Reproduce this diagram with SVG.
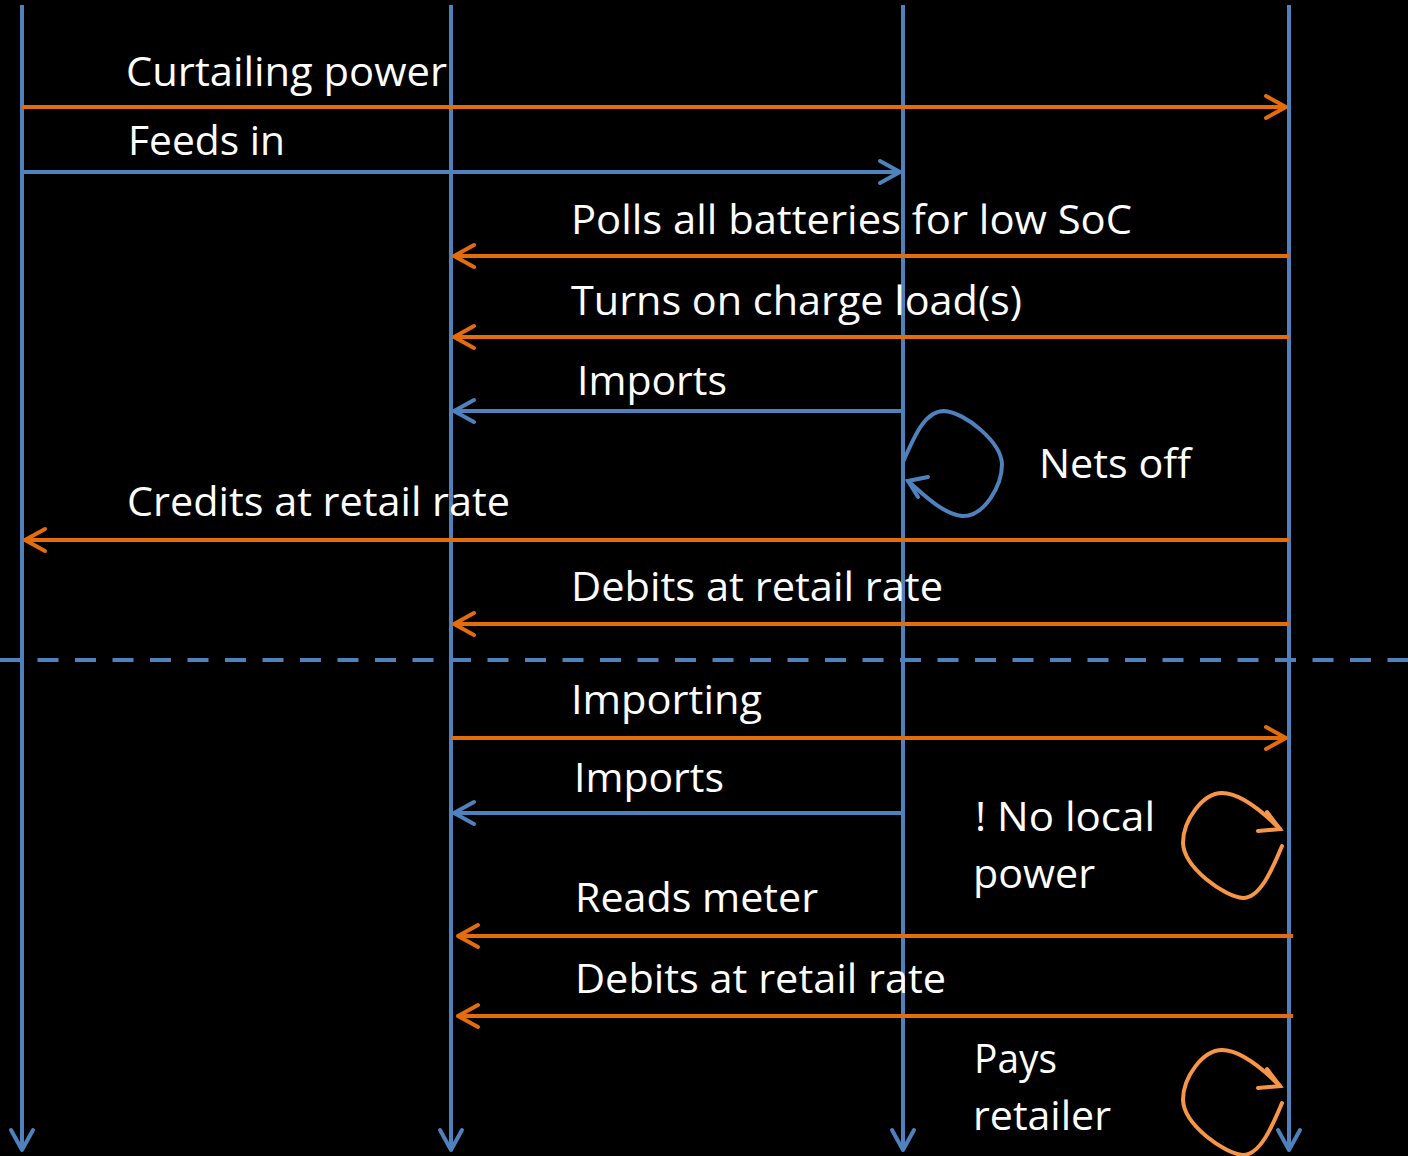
<svg xmlns="http://www.w3.org/2000/svg" width="1408" height="1156" viewBox="0 0 1408 1156">
  <style>
    .bg { fill: #000000; }
    .life { stroke: #4F81BD; stroke-width: 4; fill: none; }
    .msg-o { stroke: #E46C0A; stroke-width: 4; fill: none; }
    .msg-b { stroke: #4F81BD; stroke-width: 4; fill: none; }
    .self-b { stroke: #4F81BD; stroke-width: 4; fill: none; stroke-linecap: round; }
    .self-o { stroke: #F79646; stroke-width: 4; fill: none; stroke-linecap: round; }
    .sep { stroke: #4F81BD; stroke-width: 4; fill: none; stroke-dasharray: 21 16.5; }
    .lbl { fill: #FFFFFF; font-family: "Open Sans", "Noto Sans", "Liberation Sans", sans-serif; font-size: 40px; }
  </style>
  <defs>
    <marker id="ah-blue" markerUnits="userSpaceOnUse" viewBox="-24 -14 28 28" markerWidth="28" markerHeight="28" refX="0" refY="0" orient="auto">
      <path d="M -20 -11 L 0 0 L -20 11" fill="none" stroke="#4F81BD" stroke-width="4" stroke-linecap="round" stroke-linejoin="round"/>
    </marker>
    <marker id="ah-orange" markerUnits="userSpaceOnUse" viewBox="-24 -14 28 28" markerWidth="28" markerHeight="28" refX="0" refY="0" orient="auto">
      <path d="M -20 -11 L 0 0 L -20 11" fill="none" stroke="#E46C0A" stroke-width="4" stroke-linecap="round" stroke-linejoin="round"/>
    </marker>
  </defs>

  <rect class="bg" x="0" y="0" width="1408" height="1156"/>

  <!-- lifelines -->
  <g id="lifeline-1"><path class="life" d="M 22 5 L 22 1150" marker-end="url(#ah-blue)"/></g>
  <g id="lifeline-2"><path class="life" d="M 451 5 L 451 1150" marker-end="url(#ah-blue)"/></g>
  <g id="lifeline-3"><path class="life" d="M 903 5 L 903 1150" marker-end="url(#ah-blue)"/></g>
  <g id="lifeline-4"><path class="life" d="M 1289 5 L 1289 1150" marker-end="url(#ah-blue)"/></g>

  <!-- phase separator -->
  <g id="separator"><path class="sep" d="M 0 660 L 1408 660"/></g>

  <!-- messages -->
  <g id="connectors">
    <path class="msg-o" d="M 22 107 L 1286 107" marker-end="url(#ah-orange)"/>
    <path class="msg-b" d="M 22 172 L 900 172" marker-end="url(#ah-blue)"/>
    <path class="msg-o" d="M 1289 256 L 454 256" marker-end="url(#ah-orange)"/>
    <path class="msg-o" d="M 1289 337 L 454 337" marker-end="url(#ah-orange)"/>
    <path class="msg-b" d="M 903 411 L 454 411" marker-end="url(#ah-blue)"/>
    <path class="msg-o" d="M 1289 540 L 25 540" marker-end="url(#ah-orange)"/>
    <path class="msg-o" d="M 1289 624 L 454 624" marker-end="url(#ah-orange)"/>
    <path class="msg-o" d="M 451 738 L 1286 738" marker-end="url(#ah-orange)"/>
    <path class="msg-b" d="M 903 813 L 454 813" marker-end="url(#ah-blue)"/>
    <path class="msg-o" d="M 1293 936 L 458 936" marker-end="url(#ah-orange)"/>
    <path class="msg-o" d="M 1293 1016 L 458 1016" marker-end="url(#ah-orange)"/>

    <!-- self loop: nets off -->
    <path class="self-b" d="M 903 462 C 915 435, 925 411, 944 411 C 965 412, 1001 442, 1002 464 C 1002 486, 984 517, 962 516 C 943 514, 924 495, 908 481"/>
    <path class="self-b" d="M 928 477 L 908 481 L 918 497"/>

    <!-- self loop: no local power -->
    <g id="loop-nolocal">
      <path class="self-o" d="M 1282 846 C 1272 870, 1260 898, 1243 898 C 1225 897, 1184 868, 1183 843 C 1183 820, 1203 793, 1222 793 C 1242 793, 1265 814, 1280 829"/>
      <path class="self-o" d="M 1258 831 L 1280 829 L 1267 812"/>
    </g>
    <!-- self loop: pays retailer -->
    <g id="loop-pays" transform="translate(0 257)">
      <path class="self-o" d="M 1282 846 C 1272 870, 1260 898, 1243 898 C 1225 897, 1184 868, 1183 843 C 1183 820, 1203 793, 1222 793 C 1242 793, 1265 814, 1280 829"/>
      <path class="self-o" d="M 1258 831 L 1280 829 L 1267 812"/>
    </g>
  </g>

  <!-- labels -->
  <g id="labels">
    <text class="lbl" x="126" y="86" textLength="321" lengthAdjust="spacingAndGlyphs">Curtailing power</text>
    <text class="lbl" x="128" y="155" textLength="157" lengthAdjust="spacingAndGlyphs">Feeds in</text>
    <text class="lbl" x="571" y="234" textLength="561" lengthAdjust="spacingAndGlyphs">Polls all batteries for low SoC</text>
    <text class="lbl" x="571" y="315" textLength="451" lengthAdjust="spacingAndGlyphs">Turns on charge load(s)</text>
    <text class="lbl" x="577" y="395" textLength="150" lengthAdjust="spacingAndGlyphs">Imports</text>
    <text class="lbl" x="1039" y="478" textLength="152" lengthAdjust="spacingAndGlyphs">Nets off</text>
    <text class="lbl" x="127" y="516" textLength="383" lengthAdjust="spacingAndGlyphs">Credits at retail rate</text>
    <text class="lbl" x="571" y="601" textLength="372" lengthAdjust="spacingAndGlyphs">Debits at retail rate</text>
    <text class="lbl" x="571" y="714" textLength="191" lengthAdjust="spacingAndGlyphs">Importing</text>
    <text class="lbl" x="574" y="792" textLength="150" lengthAdjust="spacingAndGlyphs">Imports</text>
    <text class="lbl" x="975" y="831" textLength="180" lengthAdjust="spacingAndGlyphs">! No local</text>
    <text class="lbl" x="973" y="888" textLength="122" lengthAdjust="spacingAndGlyphs">power</text>
    <text class="lbl" x="575" y="912" textLength="243" lengthAdjust="spacingAndGlyphs">Reads meter</text>
    <text class="lbl" x="575" y="993" textLength="371" lengthAdjust="spacingAndGlyphs">Debits at retail rate</text>
    <text class="lbl" x="974" y="1073" textLength="83" lengthAdjust="spacingAndGlyphs">Pays</text>
    <text class="lbl" x="973" y="1130" textLength="138" lengthAdjust="spacingAndGlyphs">retailer</text>
  </g>
</svg>
